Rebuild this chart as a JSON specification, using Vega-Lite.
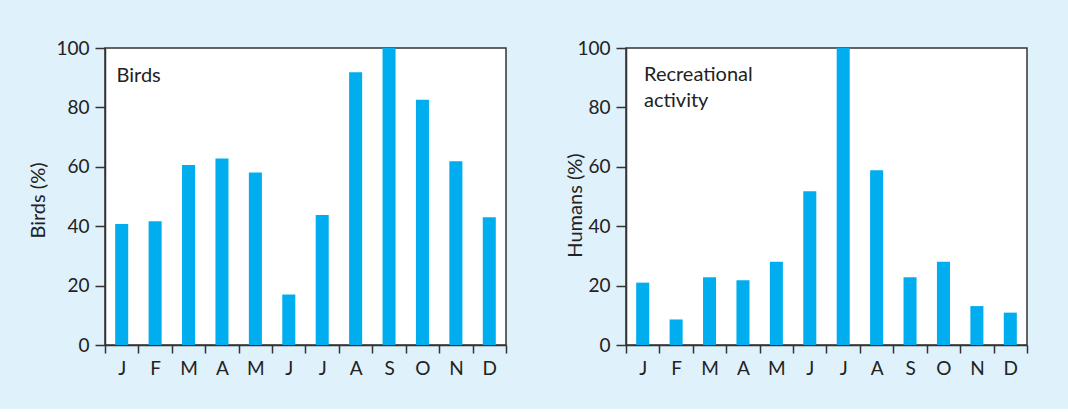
{
  "$schema": "https://vega.github.io/schema/vega-lite/v6.json",
  "background": "#dff1fb",
  "padding": {"left": 27, "top": 38, "right": 40, "bottom": 30},
  "spacing": 56,
  "datasets": {
    "monthly": [
      {"month": "Jan", "birds": 40.7, "humans": 21.0},
      {"month": "Feb", "birds": 41.7, "humans": 8.6},
      {"month": "Mar", "birds": 60.6, "humans": 22.8},
      {"month": "Apr", "birds": 62.8, "humans": 21.8},
      {"month": "May", "birds": 58.1, "humans": 28.0},
      {"month": "Jun", "birds": 17.0, "humans": 51.8},
      {"month": "Jul", "birds": 43.8, "humans": 100},
      {"month": "Aug", "birds": 91.8, "humans": 58.8},
      {"month": "Sep", "birds": 100, "humans": 22.8},
      {"month": "Oct", "birds": 82.6, "humans": 28.0},
      {"month": "Nov", "birds": 61.9, "humans": 13.1},
      {"month": "Dec", "birds": 43.0, "humans": 10.9}
    ],
    "birdsLabel": [
      {"month": "Jan", "y": 88.45, "text": "Birds"}
    ],
    "humansLabel": [
      {"month": "Jan", "y": 89.0, "text": "Recreational"},
      {"month": "Jan", "y": 80.2, "text": "activity"}
    ]
  },
  "config": {
    "font": "Lato",
    "view": {"stroke": "#333333", "strokeWidth": 1.5, "fill": "white"},
    "axis": {
      "domainColor": "#333333",
      "domainWidth": 1.5,
      "tickColor": "#333333",
      "tickWidth": 1.5,
      "labelColor": "#222222",
      "titleColor": "#222222",
      "labelFont": "Lato",
      "titleFont": "Lato",
      "labelFontSize": 19,
      "titleFontSize": 20,
      "titleFontWeight": "normal",
      "grid": false
    },
    "axisX": {"tickSize": 8, "labelPadding": 6, "labelAngle": 0, "tickBand": "extent"},
    "axisY": {"tickSize": 10, "labelPadding": 6}
  },
  "hconcat": [
    {
      "width": 401,
      "height": 297,
      "layer": [
        {
          "data": {"name": "monthly"},
          "mark": {"type": "bar", "color": "#00aeef", "width": {"band": 0.39}},
          "encoding": {
            "x": {
              "field": "month", "type": "nominal", "sort": null,
              "scale": {"domain": ["Jan","Feb","Mar","Apr","May","Jun","Jul","Aug","Sep","Oct","Nov","Dec"], "paddingInner": 0, "paddingOuter": 0},
              "axis": {"title": null, "labelExpr": "substring(datum.label, 0, 1)"}
            },
            "y": {
              "field": "birds", "type": "quantitative",
              "scale": {"domain": [0, 100], "nice": false},
              "axis": {"title": "Birds (%)", "values": [0, 20, 40, 60, 80, 100], "titleFontSize": 20, "titleX": -67, "titleY": 152, "titleBaseline": "middle"}
            }
          }
        },
        {
          "data": {"name": "birdsLabel"},
          "mark": {"type": "text", "align": "left", "baseline": "alphabetic", "dx": 11.5, "fontSize": 20, "color": "#222222", "font": "Lato"},
          "encoding": {
            "x": {"field": "month", "type": "nominal", "bandPosition": 0},
            "y": {"field": "y", "type": "quantitative"},
            "text": {"field": "text"}
          }
        }
      ]
    },
    {
      "width": 401,
      "height": 297,
      "layer": [
        {
          "data": {"name": "monthly"},
          "mark": {"type": "bar", "color": "#00aeef", "width": {"band": 0.39}},
          "encoding": {
            "x": {
              "field": "month", "type": "nominal", "sort": null,
              "scale": {"domain": ["Jan","Feb","Mar","Apr","May","Jun","Jul","Aug","Sep","Oct","Nov","Dec"], "paddingInner": 0, "paddingOuter": 0},
              "axis": {"title": null, "labelExpr": "substring(datum.label, 0, 1)"}
            },
            "y": {
              "field": "humans", "type": "quantitative",
              "scale": {"domain": [0, 100], "nice": false},
              "axis": {"title": "Humans (%)", "values": [0, 20, 40, 60, 80, 100], "titleFontSize": 20, "titleX": -51, "titleY": 157, "titleBaseline": "middle"}
            }
          }
        },
        {
          "data": {"name": "humansLabel"},
          "mark": {"type": "text", "align": "left", "baseline": "alphabetic", "dx": 18, "fontSize": 20, "color": "#222222", "font": "Lato"},
          "encoding": {
            "x": {"field": "month", "type": "nominal", "bandPosition": 0},
            "y": {"field": "y", "type": "quantitative"},
            "text": {"field": "text"}
          }
        }
      ]
    }
  ]
}
